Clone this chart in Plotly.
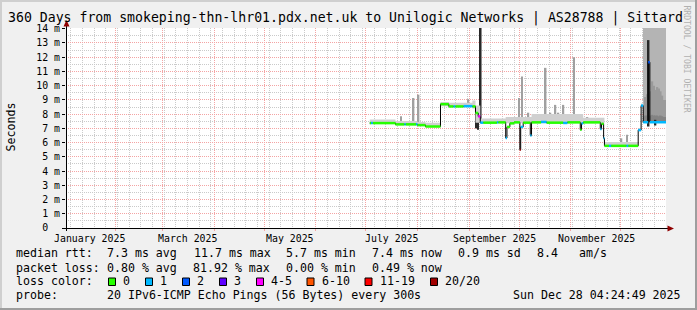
import plotly.graph_objects as go

# ---------------- data ----------------
x_start = "2025-01-02 04:24:49"
x_end = "2025-12-28 04:24:49"
y_max = 14.05

ytick_vals = list(range(0, 15))
ytick_text = ["0  "] + [f"{v} m" for v in range(1, 15)]

xlab_dates = ["2025-01-16 12:00", "2025-03-16 12:00", "2025-05-16 12:00",
              "2025-07-16 12:00", "2025-09-16 12:00", "2025-11-16 12:00"]
xlab_text = ["January 2025", "March 2025", "May 2025",
             "July 2025", "September 2025", "November 2025"]

# median rtt (ms) as a step series, with loss class of each step
med_dates = [
    "2025-07-03 11:00", "2025-07-04 06:00", "2025-07-05 06:00", "2025-07-18 21:00",
    "2025-07-24 06:00", "2025-07-25 00:00", "2025-07-31 06:00", "2025-08-01 00:00",
    "2025-08-05 21:00", "2025-08-14 21:00", "2025-08-19 21:00", "2025-08-22 18:00",
    "2025-08-23 18:00", "2025-08-28 18:00", "2025-09-03 00:00", "2025-09-04 21:00",
    "2025-09-06 12:00", "2025-09-07 18:00", "2025-09-09 12:00", "2025-09-17 18:00",
    "2025-09-18 12:00", "2025-09-23 00:00", "2025-09-23 18:00", "2025-09-25 12:00",
    "2025-09-28 00:00", "2025-10-01 12:00", "2025-10-02 00:00", "2025-10-03 12:00",
    "2025-10-07 18:00", "2025-10-08 12:00", "2025-10-14 06:00", "2025-10-17 12:00",
    "2025-10-27 12:00", "2025-10-30 00:00", "2025-11-06 18:00", "2025-11-07 12:00",
    "2025-11-08 12:00", "2025-11-18 18:00", "2025-11-19 12:00", "2025-11-20 18:00",
    "2025-11-21 06:00", "2025-11-24 00:00", "2025-11-25 06:00", "2025-12-04 12:00",
    "2025-12-05 12:00", "2025-12-11 12:00", "2025-12-13 06:00", "2025-12-14 12:00",
    "2025-12-17 12:00", "2025-12-18 12:00",
]
med_vals = [
    7.37, 7.37, 7.37, 7.28,
    7.28, 7.28, 7.28, 7.23,
    7.13, 8.70, 8.54, 8.54,
    8.54, 8.56, 8.54, 8.08,
    7.84, 7.40, 7.40, 7.42,
    7.42, 6.32, 7.10, 7.35,
    7.42, 5.50, 7.10, 7.40,
    6.50, 7.42, 7.45, 7.40,
    7.38, 7.42, 6.90, 7.35,
    7.42, 6.95, 7.32, 6.30,
    5.77, 5.77, 5.77, 5.77,
    5.77, 6.88, 8.60, 7.43,
    11.65, 7.43,
]
med_loss = [
    "0", "1", "0", "0",
    "1", "0", "1", "0",
    "0", "0", "0", "1",
    "0", "1", "0", "0",
    "4-5", "1", "0", "1",
    "0", "1", "0", "0",
    "0", "20/20", "1", "0",
    "1", "0", "1", "0",
    "1", "0", "0", "1",
    "0", "1", "0", "1",
    "0", "1", "0", "1",
    "0", "1", "1", "1",
    "2", "1",
]

# light smoke band around the median (step series)
smoke_dates = ["2025-07-03 11:00", "2025-07-18 21:00", "2025-08-01 00:00", "2025-08-05 21:00",
               "2025-08-14 21:00", "2025-08-19 21:00", "2025-09-03 00:00", "2025-09-04 21:00",
               "2025-09-07 18:00", "2025-09-23 00:00", "2025-10-08 12:00", "2025-11-08 12:00",
               "2025-11-21 06:00", "2025-12-11 12:00", "2025-12-13 06:00", "2025-12-14 12:00"]
smoke_lo = [7.30, 7.22, 7.15, 7.08, 8.55, 8.48, 8.40, 7.40, 7.35, 7.35, 7.35, 7.35, 5.72, 6.80, 8.50, 8.50]
smoke_hi = [7.62, 7.52, 7.45, 7.40, 8.85, 8.80, 8.95, 8.60, 7.70, 7.80, 8.00, 7.75, 6.05, 7.00, 8.75, 8.75]

# individual smoke spikes (light)
spk_dates = ["2025-07-22 02:00", "2025-07-29 18:00", "2025-08-01 18:00", "2025-08-31 16:00",
             "2025-09-30 20:00", "2025-10-02 18:00", "2025-10-06 16:00", "2025-10-10 21:00",
             "2025-10-17 00:00", "2025-10-19 21:00", "2025-10-22 21:00", "2025-10-24 16:00",
             "2025-10-27 16:00", "2025-10-30 16:00", "2025-11-03 00:00", "2025-11-06 21:00",
             "2025-11-11 02:00", "2025-11-18 07:00", "2025-12-01 12:00", "2025-12-04 21:00"]
spk_lo = [7.30, 7.30, 7.25, 8.60, 7.40, 7.40, 7.40, 7.40, 7.40, 7.40,
          7.40, 7.40, 7.40, 7.40, 7.40, 7.40, 7.40, 7.40, 5.77, 5.77]
spk_hi = [7.85, 9.13, 9.37, 9.05, 9.13, 10.65, 8.10, 7.75, 11.25, 8.10,
          8.65, 8.10, 8.65, 8.00, 12.00, 8.00, 7.80, 7.55, 6.30, 6.55]

# dark smoke spikes
dspk_dates = ["2025-09-05 12:00", "2025-09-06 12:00", "2025-09-08 00:00",
              "2025-12-17 18:00", "2025-12-21 21:00"]
dspk_lo = [7.00, 6.90, 7.40, 7.13, 7.20]
dspk_hi = [8.40, 8.20, 14.50, 13.20, 7.60]

# heavy smoke block, last two weeks (daily columns)
block_dates = ["2025-12-15", "2025-12-16", "2025-12-17", "2025-12-18", "2025-12-19",
               "2025-12-20", "2025-12-21", "2025-12-22", "2025-12-23", "2025-12-24",
               "2025-12-25", "2025-12-26", "2025-12-27", "2025-12-28"]
block_lo = [7.45] * 14
block_hi = [14.5] * 14
block_mid = [8.4, 9.2, 9.4, 9.1, 9.6, 10.3, 10.0, 9.7, 9.9, 9.8, 9.6, 9.3, 9.0, 9.0]
block_core = [7.8, 7.9, 7.9, 7.85, 7.9, 7.95, 7.9, 7.9, 7.9, 7.85, 7.9, 7.85, 7.8, 7.8]

loss_labels = ["0", "1", "2", "3", "4-5", "6-10", "11-19", "20/20"]
loss_colors = ["#26ff00", "#00b8ff", "#0059ff", "#5e00ff", "#ff00ff", "#ff5500", "#ff0000", "#a10000"]

row1 = ["median rtt:", "7.3 ms avg", "11.7 ms max", "5.7 ms min", "7.4 ms now", "0.9 ms sd", "8.4", "am/s"]
row2 = ["packet loss:", "0.80 % avg", "81.92 % max", "0.00 % min", "0.49 % now"]
row3_title = "loss color:"
row4 = ["probe:", "20 IPv6-ICMP Echo Pings (56 Bytes) every 300s"]
stamp = "Sun Dec 28 04:24:49 2025"
title = "360 Days from smokeping-thn-lhr01.pdx.net.uk to Unilogic Networks | AS28788 | Sittard"
ylabel = "Seconds"
watermark = "RRDTOOL / TOBI OETIKER"

# ---------------- layout helpers ----------------
W, H = 697, 310
L, T, PW, PH = 66, 28, 600, 200
FONT = "DejaVu Sans Mono"
DAY = 86400000
MGRID = "#F4A4A4"
GRID = "#CACACA"


def xp(px):
    return (px - L) / PW


def yp(py):
    return (T + PH - py) / PH


fig = go.Figure()

# smoke band
fig.add_trace(go.Scatter(x=smoke_dates, y=smoke_lo, mode="lines",
                         line=dict(width=0, shape="hv"), hoverinfo="skip"))
fig.add_trace(go.Scatter(x=smoke_dates, y=smoke_hi, mode="lines", fill="tonexty",
                         fillcolor="#d0d0d0", line=dict(width=0, shape="hv"), hoverinfo="skip"))

# heavy block
for top, col in [(block_hi, "#b4b4b4"), (block_mid, "#9a9a9a"), (block_core, "#838383")]:
    fig.add_trace(go.Bar(x=block_dates, y=[t - b for t, b in zip(top, block_lo)], base=block_lo,
                         width=DAY, marker=dict(color=col, line=dict(width=0)), hoverinfo="skip"))

# spikes
fig.add_trace(go.Bar(x=spk_dates, y=[h - l for h, l in zip(spk_hi, spk_lo)], base=spk_lo,
                     width=DAY * 0.9, marker=dict(color="#a0a0a0", line=dict(width=0)), hoverinfo="skip"))
fig.add_trace(go.Bar(x=dspk_dates, y=[h - l for h, l in zip(dspk_hi, dspk_lo)], base=dspk_lo,
                     width=DAY * 1.0, marker=dict(color="#282828", line=dict(width=0)), hoverinfo="skip"))

# median line
fig.add_trace(go.Scatter(x=med_dates + [x_end], y=med_vals + [med_vals[-1]], mode="lines",
                         line=dict(color="#000000", width=1, shape="hv"), hoverinfo="skip"))

# loss coloured segments
ends = med_dates[1:] + [x_end]
segs = {lab: ([], []) for lab in loss_labels}
for d0, d1, v, lab in zip(med_dates, ends, med_vals, med_loss):
    segs[lab][0].extend([d0, d1, None])
    segs[lab][1].extend([v, v, None])
for lab, col in zip(loss_labels, loss_colors):
    xs, ys = segs[lab]
    if xs:
        fig.add_trace(go.Scatter(x=xs, y=ys, mode="lines", line=dict(color=col, width=2.5),
                                 connectgaps=False, hoverinfo="skip"))

# ---------------- shapes ----------------
shapes = []
# frame shading
shapes += [
    dict(type="rect", xref="paper", yref="paper", x0=xp(0), x1=xp(W), y0=yp(0), y1=yp(2),
         fillcolor="#CFCFCF", line=dict(width=0), layer="below"),
    dict(type="rect", xref="paper", yref="paper", x0=xp(0), x1=xp(2), y0=yp(0), y1=yp(H),
         fillcolor="#CFCFCF", line=dict(width=0), layer="below"),
    dict(type="rect", xref="paper", yref="paper", x0=xp(0), x1=xp(W), y0=yp(H - 2), y1=yp(H),
         fillcolor="#9E9E9E", line=dict(width=0), layer="below"),
    dict(type="rect", xref="paper", yref="paper", x0=xp(W - 2), x1=xp(W), y0=yp(0), y1=yp(H),
         fillcolor="#9E9E9E", line=dict(width=0), layer="below"),
]
# axes
shapes += [
    dict(type="line", xref="paper", yref="paper", x0=xp(66.5), x1=xp(66.5), y0=yp(231), y1=yp(24),
         line=dict(color="#000000", width=1)),
    dict(type="line", xref="paper", yref="paper", x0=xp(62), x1=xp(669), y0=yp(228.5), y1=yp(228.5),
         line=dict(color="#000000", width=1)),
    dict(type="path", xref="paper", yref="paper",
         path=f"M {xp(66.5)},{yp(20)} L {xp(69.5)},{yp(26.5)} L {xp(63.5)},{yp(26.5)} Z",
         fillcolor="#8f0000", line=dict(width=0)),
    dict(type="path", xref="paper", yref="paper",
         path=f"M {xp(674)},{yp(228.5)} L {xp(667.5)},{yp(225.5)} L {xp(667.5)},{yp(231.5)} Z",
         fillcolor="#8f0000", line=dict(width=0)),
]
# legend colour boxes
box_x = [108.5, 145.5, 182.5, 219.5, 256.5, 307, 365, 430.5]
lab_x = [123, 159.5, 196.5, 233.5, 270.5, 321.5, 379.5, 444.5]
for bx, col in zip(box_x, loss_colors):
    shapes.append(dict(type="rect", xref="paper", yref="paper", x0=xp(bx), x1=xp(bx + 7),
                       y0=yp(285.5), y1=yp(278), fillcolor=col, line=dict(color="#000000", width=1)))

# ---------------- annotations ----------------
ann = []


def txt(x, y, s, size, anchor="left", color="#000000", angle=0, xref="paper"):
    ann.append(dict(xref=xref, yref="paper", x=x if xref != "paper" else xp(x), y=yp(y), text=s,
                    showarrow=False, xanchor=anchor, yanchor="middle", textangle=angle,
                    borderpad=0, borderwidth=0, font=dict(family=FONT, size=size, color=color)))


txt(7.8, 18.3, title, 13.2)
txt(10, 127.5, ylabel, 11.6, anchor="center", angle=-90)
txt(686.5, 59, watermark, 8.1, anchor="center", color="#b0b0b0", angle=90)
for d, s in zip(xlab_dates, xlab_text):
    txt(d, 238.3, s, 9.9, anchor="center", xref="x")

r1x = [15.5, 106.8, 193.5, 285.5, 372.2, 457.8, 536.8, 578.8]
for x, s in zip(r1x, row1):
    txt(x, 253.3, s, 11.6)
r2x = [15.5, 106.8, 192.8, 285.5, 372.2]
for x, s in zip(r2x, row2):
    txt(x, 267.6, s, 11.6)
txt(15.5, 281.3, row3_title, 11.6)
for x, s in zip(lab_x, loss_labels):
    txt(x, 281.3, s, 11.6)
txt(15.5, 295.3, row4[0], 11.6)
txt(106.8, 295.3, row4[1], 11.6)
txt(680.8, 295.3, stamp, 11.6, anchor="right")

fig.update_layout(
    width=W, height=H,
    margin=dict(l=L, r=W - L - PW, t=T, b=H - T - PH, pad=0),
    paper_bgcolor="#F0F0F0", plot_bgcolor="#FFFFFF",
    barmode="overlay", showlegend=False,
    font=dict(family=FONT, size=9.9, color="#000000"),
    shapes=shapes, annotations=ann,
    xaxis=dict(type="date", range=[x_start, x_end], tickmode="linear", tick0="2025-01-01", dtick="M1",
               showticklabels=False, showgrid=True, gridcolor=MGRID, griddash="1px,1px", gridwidth=1,
               ticks="outside", ticklen=2, tickcolor=MGRID, zeroline=False, showline=False,
               fixedrange=True,
               minor=dict(tickmode="linear", tick0="2025-01-05", dtick=7 * DAY, showgrid=True,
                          gridcolor=GRID, griddash="1px,1px", ticks="")),
    yaxis=dict(range=[0, y_max], tickmode="array", tickvals=ytick_vals, ticktext=ytick_text,
               showgrid=True, gridcolor=MGRID, griddash="1px,1px", gridwidth=1,
               ticks="outside", ticklen=3, tickcolor="#000000", zeroline=False, showline=False,
               fixedrange=True, tickfont=dict(family=FONT, size=9.9, color="#000000"),
               minor=dict(tickmode="linear", tick0=0, dtick=0.5, showgrid=True,
                          gridcolor=GRID, griddash="1px,1px", ticks="")),
)

fig.write_html("out.html")
